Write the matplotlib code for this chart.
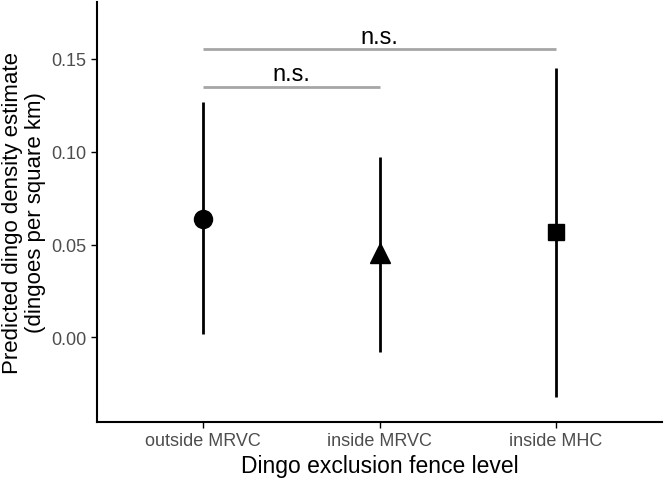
import numpy as np
import matplotlib.pyplot as plt

plt.rcParams['font.family'] = ['Liberation Sans', 'DejaVu Sans']

# datos
categorias = ['outside MRVC', 'inside MRVC', 'inside MHC']
estimacion = [0.0638, 0.0455, 0.0567]
limite_inf = [0.002, -0.008, -0.032]
limite_sup = [0.1265, 0.097, 0.145]
marcadores = ['o', '^', 's']
tam_marcador = [13, 14, 11.5]

# comparaciones (índice i, índice j, altura, etiqueta)
comparaciones = [(0, 1, 0.135, 'n.s.'), (0, 2, 0.155, 'n.s.')]

fig = plt.figure(figsize=(6.64, 4.81), dpi=100)
ax = fig.add_axes([0.1461, 0.1206, 0.8509, 0.8732])

x = np.arange(1, len(categorias) + 1)
for i in range(len(categorias)):
    ax.vlines(x[i], limite_inf[i], limite_sup[i], color='black', lw=2)
    ax.plot(x[i], estimacion[i], marker=marcadores[i], ms=tam_marcador[i],
            color='black', mec='black', ls='none', zorder=3)

for i, j, h, etiqueta in comparaciones:
    ax.hlines(h, x[i], x[j], color='#a6a6a6', lw=2)
    ax.text((x[i] + x[j]) / 2, h + 0.001, etiqueta, ha='center', va='bottom',
            fontsize=17, color='black')

ax.set_xlim(0.4, 3.6)
ax.set_ylim(-0.0455, 0.1805)
ax.set_xticks(x)
ax.set_xticklabels(categorias)
ax.set_yticks([0.0, 0.05, 0.10, 0.15])
ax.set_yticklabels(['0.00', '0.05', '0.10', '0.15'])

ax.tick_params(axis='both', labelsize=13, labelcolor='#4d4d4d', color='black',
               length=4, width=1)
ax.spines['top'].set_visible(False)
ax.spines['right'].set_visible(False)
ax.spines['left'].set_linewidth(1.5)
ax.spines['bottom'].set_linewidth(1.5)

ax.set_xlabel('Dingo exclusion fence level', fontsize=16.5, labelpad=3)
ax.set_ylabel('Predicted dingo density estimate\n(dingoes per square km)',
              fontsize=16, labelpad=4, linespacing=1.1)

plt.savefig('out.png', dpi=100)
